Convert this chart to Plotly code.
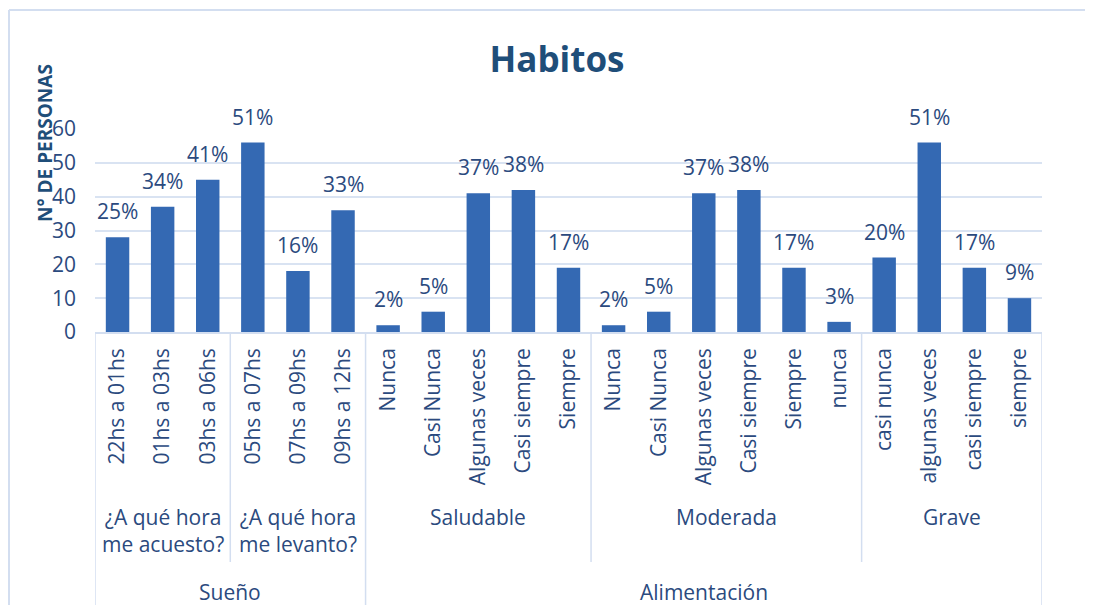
import plotly.graph_objects as go

# ---------------- data ----------------
categories = [
    "22hs a 01hs", "01hs a 03hs", "03hs a 06hs",
    "05hs a 07hs", "07hs a 09hs", "09hs a 12hs",
    "Nunca", "Casi Nunca", "Algunas veces", "Casi siempre", "Siempre",
    "Nunca", "Casi Nunca", "Algunas veces", "Casi siempre", "Siempre", "nunca",
    "casi nunca", "algunas veces", "casi siempre", "siempre",
]
values = [28, 37, 45, 56, 18, 36,
          2, 6, 41, 42, 19,
          2, 6, 41, 42, 19, 3,
          22, 56, 19, 10]
pct_labels = ["25%", "34%", "41%", "51%", "16%", "33%",
              "2%", "5%", "37%", "38%", "17%",
              "2%", "5%", "37%", "38%", "17%", "3%",
              "20%", "51%", "17%", "9%"]

level2_names = ["¿A qué hora<br>me acuesto?", "¿A qué hora<br>me levanto?",
                "Saludable", "Moderada", "Grave"]
level2_sizes = [3, 3, 5, 6, 4]
level3_names = ["Sueño", "Alimentación"]
level3_sizes = [6, 15]

y_ticks = [0, 10, 20, 30, 40, 50, 60]

# ---------------- style ----------------
FONT = "Open Sans, Lato, sans-serif"
FS = 21
TXT = "#2B4A7E"
TITLE_C = "#1F4E79"
BAR_C = "#3469B3"
GRID_C = "#D9E3F2"
LINE_C = "#D3DEF0"

W, H = 1093, 605
OFF = 8  # page offset
L = 95 - OFF
T = 129 - OFF
plot_h = 203
B = H - T - plot_h
R = W - (1042 - OFF)
plot_w = W - L - R


def py(px_below_axis):
    """pixel offset below the x axis -> paper y"""
    return -px_below_axis / plot_h


def pyf(fy):
    """figure pixel y (from top) -> paper y"""
    return (T + plot_h - fy) / plot_h


def pxf(fx):
    """figure pixel x -> paper x"""
    return (fx - L) / plot_w


x = list(range(len(categories)))

fig = go.Figure()
fig.add_trace(go.Bar(
    x=x, y=values, width=0.52,
    marker=dict(color=BAR_C, line=dict(width=0)),
    hoverinfo="skip",
))

annotations = []
for xi, v, lab in zip(x, values, pct_labels):
    annotations.append(dict(
        x=xi, y=v, xref="x", yref="y", text=lab, showarrow=False,
        yanchor="bottom", yshift=10,
        font=dict(family=FONT, size=FS, color=TXT),
    ))

shapes = []
# level 2 groups
start = 0
for name, size in zip(level2_names, level2_sizes):
    center = start + (size - 1) / 2
    annotations.append(dict(
        x=center, y=py(169), xref="x", yref="paper", text=name,
        showarrow=False, yanchor="top",
        font=dict(family=FONT, size=FS, color=TXT), align="center",
    ))
    start += size
bounds2 = []
s = 0
for size in level2_sizes[:-1]:
    s += size
    bounds2.append(s - 0.5)
# level 3 groups
start = 0
bounds3 = [-0.5]
for name, size in zip(level3_names, level3_sizes):
    center = start + (size - 1) / 2
    annotations.append(dict(
        x=center, y=py(260), xref="x", yref="paper", text=name,
        showarrow=False, yanchor="middle",
        font=dict(family=FONT, size=FS, color=TXT),
    ))
    start += size
    bounds3.append(start - 0.5)

for b in bounds2:
    if b in bounds3:
        continue
    shapes.append(dict(type="line", xref="x", yref="paper", x0=b, x1=b,
                       y0=0, y1=py(230), line=dict(color=LINE_C, width=1.5)))
for b in bounds3:
    shapes.append(dict(type="line", xref="x", yref="paper", x0=b, x1=b,
                       y0=0, y1=py(300), line=dict(color=LINE_C, width=1.5)))

# chart border (top and left)
shapes.append(dict(type="line", xref="paper", yref="paper",
                   x0=pxf(1), x1=pxf(W + 5), y0=pyf(2), y1=pyf(2),
                   line=dict(color=LINE_C, width=2)))
shapes.append(dict(type="line", xref="paper", yref="paper",
                   x0=pxf(1), x1=pxf(1), y0=pyf(2), y1=pyf(H + 10),
                   line=dict(color=LINE_C, width=2)))

# y axis title
annotations.append(dict(
    x=pxf(45 - OFF), y=pyf(143 - OFF),
    xref="paper", yref="paper", text="<b>N° DE PERSONAS</b>",
    showarrow=False, textangle=-90, xanchor="center", yanchor="middle",
    font=dict(family=FONT, size=19, color=TITLE_C),
))

fig.update_layout(
    width=W, height=H,
    margin=dict(l=L, r=R, t=T, b=B),
    paper_bgcolor="white", plot_bgcolor="white",
    showlegend=False,
    title=dict(text="<b>Habitos</b>", x=(557 - OFF) / W, xanchor="center",
               y=1 - (60 - OFF) / H, yanchor="middle",
               font=dict(family=FONT, size=35, color=TITLE_C)),
    xaxis=dict(
        range=[-0.5, len(categories) - 0.5],
        tickmode="array", tickvals=x, ticktext=categories,
        tickangle=-90, showgrid=False, zeroline=False,
        showline=True, linecolor=LINE_C, linewidth=1.5,
        ticks="", ticklabelstandoff=6,
        tickfont=dict(family=FONT, size=FS, color=TXT),
        fixedrange=True,
    ),
    yaxis=dict(
        range=[0, 60], tickmode="array", tickvals=y_ticks,
        showgrid=True, gridcolor=GRID_C, gridwidth=1.5,
        zeroline=False, showline=False, ticks="",
        tickfont=dict(family=FONT, size=FS, color=TXT),
        ticklabelstandoff=18, fixedrange=True,
    ),
    annotations=annotations,
    shapes=shapes,
    bargap=0.48,
)

fig.write_html("out.html")
